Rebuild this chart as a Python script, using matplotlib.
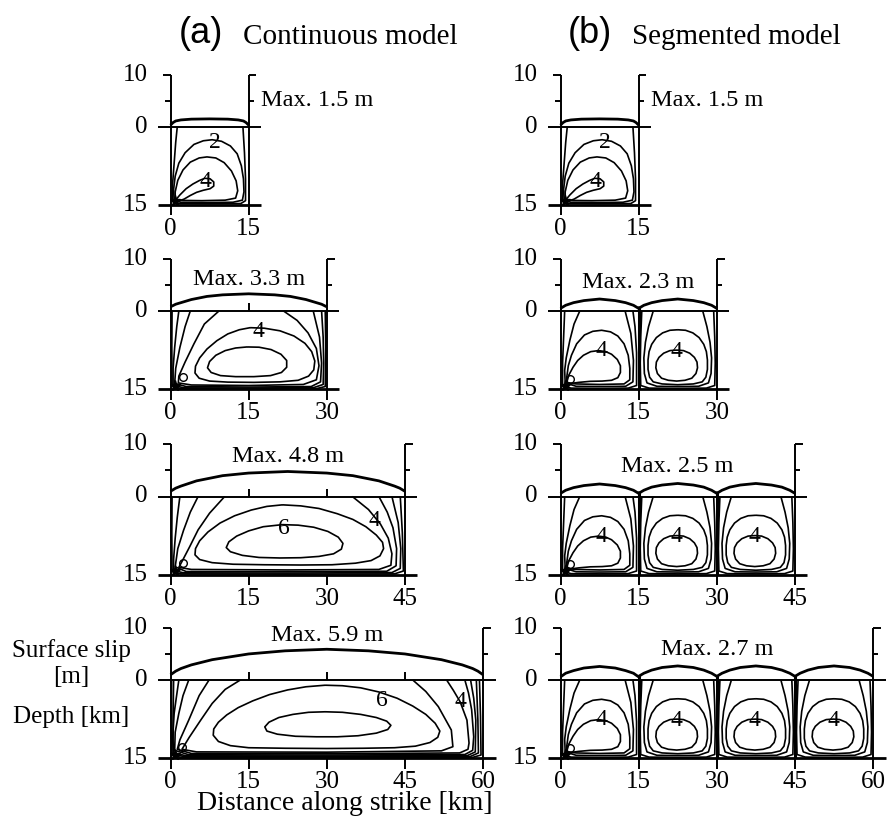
import matplotlib.pyplot as plt

plt.rcParams["font.family"] = ["Liberation Serif", "DejaVu Serif"]

# ---------------- data (km along strike, depth km / slip m) ----------------
TICK_STEP = 15

# (a) continuous model, one rupture of length L
A_LENGTHS = [15, 30, 45, 60]
A_MAX = ["1.5", "3.3", "4.8", "5.9"]

A1_SLIP_X = [0, 0.5, 1, 2, 4, 7.5, 11, 13, 14, 14.5, 15]
A1_SLIP = [0.3, 0.8, 1.1, 1.3, 1.45, 1.5, 1.45, 1.3, 1.1, 0.8, 0.3]
A1_CONTOURS = [
    [(1.3, 0), (1.0, 3), (0.7, 7), (0.4, 11), (0.4, 14.3), (1.5, 14.75), (7.5, 14.8),
     (13.5, 14.75), (14.4, 14.2), (14.4, 10), (14.2, 5), (13.9, 0)],
    [(0.7, 14.2), (0.6, 12), (0.9, 9.5), (1.6, 7), (2.8, 5), (4.5, 3.4), (6.3, 2.7), (8, 2.5),
     (9.8, 2.8), (11.5, 3.7), (12.8, 5.2), (13.6, 7.5), (14.0, 10), (14.1, 12.5), (13.8, 14.1),
     (12, 14.5), (7, 14.55), (2, 14.5), (0.7, 14.2)],
    [(0.9, 14.0), (0.9, 12.5), (1.4, 10.3), (2.4, 8.3), (3.8, 6.8), (5.5, 6.0), (7, 5.8),
     (8.7, 6.0), (10.3, 6.9), (11.7, 8.5), (12.6, 10.4), (12.9, 12.3), (12.5, 13.7),
     (10.5, 14.1), (6, 14.2), (2.5, 14.15), (0.9, 14.0)],
    [(0.8, 14.3), (1.8, 13.1), (3.0, 11.9), (4.3, 11.0), (5.6, 10.3), (6.6, 9.9), (7.6, 10.0),
     (8.3, 10.6), (8.3, 11.4), (7.6, 11.9), (6.3, 12.2), (5.0, 12.6), (3.8, 13.2), (2.6, 13.9),
     (1.5, 14.3), (0.8, 14.3)],
]
A1_LABELS = [("2", 8.6, 3.0), ("4", 6.8, 10.6)]
A1_LOOP = None

A2_SLIP_X = [0, 1, 2, 4, 7, 10, 15, 20, 23, 26, 28, 29, 30]
A2_SLIP = [0.8, 1.3, 1.6, 2.2, 2.8, 3.1, 3.3, 3.1, 2.8, 2.2, 1.6, 1.3, 0.8]
A2_CONTOURS = [
    [(0.3, 0), (0.25, 7), (0.3, 14.4), (2, 14.9), (15, 14.9), (28, 14.9), (29.7, 14.5),
     (29.8, 7), (29.7, 0)],
    [(1.6, 0), (1.2, 3), (0.8, 7), (0.5, 11), (0.5, 14.2), (2.5, 14.75), (15, 14.8),
     (27.5, 14.7), (29.3, 14.1), (29.4, 10), (29.3, 5), (29.0, 0)],
    [(3.8, 0), (2.8, 3), (1.8, 7), (1.0, 11), (0.8, 13.9), (3, 14.5), (15, 14.6), (27, 14.5),
     (28.8, 13.6), (29.0, 10), (28.6, 5), (27.4, 0)],
    [(9.3, 0), (6.5, 2.5), (4.5, 6.3), (2.8, 9.8), (1.6, 12.5), (1.5, 13.8), (4, 14.2),
     (15, 14.3), (25.5, 14.1), (28.0, 13.2), (28.5, 10.5), (28.0, 7.2), (26.4, 4.2),
     (24.3, 1.8), (21.7, 0)],
    [(15.3, 3.2), (18, 3.3), (21, 3.8), (23.7, 4.8), (25.8, 6.2), (27.1, 7.8), (27.7, 9.6),
     (27.5, 11.3), (26.5, 12.5), (24.5, 13.3), (21, 13.6), (16, 13.7), (11, 13.65),
     (7.5, 13.45), (5.5, 12.9), (4.7, 11.9), (4.8, 10.6), (5.6, 9.0), (7.0, 7.3), (8.9, 5.7),
     (11.0, 4.4), (13.2, 3.6), (15.3, 3.2)],
    [(14.7, 6.9), (17, 6.95), (19.3, 7.4), (21.2, 8.3), (22.3, 9.5), (22.3, 10.8), (21.3, 11.8),
     (19.2, 12.4), (16, 12.6), (12.5, 12.6), (9.6, 12.4), (7.8, 11.8), (7.1, 10.9), (7.5, 9.7),
     (8.7, 8.5), (10.5, 7.6), (12.5, 7.1), (14.7, 6.9)],
]
A2_LABELS = [("4", 16.9, 4.0)]
A2_LOOP = (2.4, 12.7)

A3_SLIP_X = [0, 1, 2, 5, 10, 15, 22.5, 30, 35, 40, 43, 44, 45]
A3_SLIP = [1.0, 1.6, 2.0, 3.0, 4.0, 4.5, 4.8, 4.5, 4.0, 3.0, 2.0, 1.6, 1.0]
A3_CONTOURS = [
    [(0.3, 0), (0.25, 7), (0.3, 14.4), (2, 14.85), (22.5, 14.9), (43, 14.85), (44.7, 14.3),
     (44.5, 7), (44.1, 0)],
    [(1.8, 0), (1.3, 4), (0.9, 8), (0.6, 12), (0.6, 14.2), (2.5, 14.65), (22.5, 14.7),
     (42.5, 14.6), (44.1, 13.8), (44.2, 10), (43.7, 5), (42.5, 0)],
    [(5.3, 0), (3.8, 3), (2.5, 6.5), (1.4, 10), (0.9, 13.5), (3, 14.4), (22.5, 14.45),
     (41.5, 14.35), (43.3, 13.3), (43.4, 10), (42.7, 6), (41.6, 3), (40, 0)],
    [(10.4, 0), (7.5, 3.2), (5.3, 6.4), (3.7, 9.6), (2.4, 12.1), (1.6, 13.6), (4, 14.0),
     (22.5, 14.1), (40, 14.0), (42.3, 13.2), (42.5, 11), (41.8, 8), (40.3, 5.3), (38, 2.5),
     (34.9, 0)],
    [(21.5, 1.6), (25, 1.8), (28.5, 2.3), (32, 3.3), (35, 4.4), (37.5, 5.8), (39.5, 7.4),
     (40.7, 8.8), (40.9, 10), (40.2, 11.4), (38.5, 12.3), (35.5, 12.8), (31, 13.1),
     (25, 13.15), (18, 13.1), (12, 13.0), (8, 12.7), (5.6, 12.1), (4.7, 11.2), (4.8, 10),
     (5.6, 8.5), (7.2, 6.8), (9.5, 5.1), (12.3, 3.7), (15.5, 2.6), (18.5, 1.9), (21.5, 1.6)],
    [(21.5, 5.4), (24.5, 5.5), (27.5, 5.9), (30.2, 6.7), (32.2, 7.8), (33.1, 9.0), (32.8, 10.1),
     (31.3, 11.0), (28.5, 11.5), (25, 11.75), (21, 11.8), (17, 11.7), (13.8, 11.3),
     (11.5, 10.6), (10.7, 9.8), (11.2, 8.7), (12.7, 7.6), (15, 6.6), (17.8, 5.8), (21.5, 5.4)],
]
A3_LABELS = [("6", 21.8, 6.2), ("4", 39.2, 4.6)]
A3_LOOP = (2.4, 12.8)

A4_SLIP_X = [0, 1, 2, 4, 8, 15, 22, 30, 38, 45, 52, 56, 58, 59, 60]
A4_SLIP = [1.0, 1.7, 2.2, 2.9, 3.9, 5.0, 5.6, 5.9, 5.6, 5.0, 3.9, 2.9, 2.2, 1.7, 1.0]
A4_CONTOURS = [
    [(0.2, 0), (0.2, 7), (0.3, 14.4), (2, 14.85), (30, 14.9), (58, 14.85), (59.6, 14.4),
     (59.5, 7), (59.3, 0)],
    [(0.6, 0), (0.5, 7), (0.5, 14.1), (2.5, 14.7), (30, 14.75), (57.5, 14.7), (59.1, 14),
     (59.0, 7.7), (58.7, 0)],
    [(1.6, 0), (1.1, 3.5), (0.7, 6.4), (0.4, 11.5), (0.7, 14.0), (3, 14.55), (30, 14.6),
     (57, 14.5), (58.5, 13.8), (58.6, 7.7), (58.2, 3.5), (57.6, 0)],
    [(3.5, 0), (2.4, 3), (1.6, 6.4), (0.9, 10), (0.8, 13.5), (3.5, 14.35), (30, 14.4),
     (56.5, 14.3), (58.0, 13.5), (58.2, 10.9), (57.8, 5.7), (57.2, 2.5), (56.5, 0)],
    [(7.4, 0), (5.5, 3), (3.5, 7.7), (1.8, 11.5), (1.3, 13.3), (4, 14.1), (30, 14.15),
     (55.5, 14.0), (57.1, 13.3), (57.3, 12.1), (56.9, 7.7), (55.6, 4.2), (54.3, 2), (53, 0)],
    [(13.4, 0), (10.5, 1.8), (8, 4.5), (5.8, 7.7), (3.6, 11), (2.2, 13.3), (5, 13.8),
     (30, 13.85), (52, 13.6), (54.2, 12.8), (53.9, 9.6), (51.4, 5.1), (49, 2.2), (46.5, 0)],
    [(29.7, 1.0), (33, 1.1), (36.5, 1.5), (40, 2.3), (43.5, 3.5), (46.5, 5.0), (49, 6.6),
     (50.8, 8.3), (51.7, 9.8), (51.3, 11.0), (49.8, 12.0), (47, 12.7), (43, 13.0), (37, 13.1),
     (30, 13.15), (22, 13.1), (15, 13.0), (11.5, 12.6), (9.2, 11.8), (8.2, 10.6), (8.3, 9.4),
     (9.2, 8.1), (10.8, 6.7), (13, 5.3), (15.8, 4.0), (19, 2.8), (22.5, 1.9), (26, 1.3),
     (29.7, 1.0)],
    [(29.7, 6.1), (33, 6.2), (36.5, 6.6), (39.5, 7.2), (41.5, 7.9), (42.3, 8.7), (41.7, 9.5),
     (39.5, 10.2), (36, 10.7), (32, 10.9), (28, 10.9), (24, 10.8), (20.5, 10.4), (18.5, 9.8),
     (18.1, 9.0), (18.9, 8.1), (20.8, 7.2), (23.5, 6.6), (26.5, 6.2), (29.7, 6.1)],
]
A4_LABELS = [("6", 40.6, 4.0), ("4", 55.6, 4.2)]
A4_LOOP = (2.3, 12.8)

HYPO = (0.8, 14.3)

# (b) segmented model, 15 km segments
B_SEGMENTS = [1, 2, 3, 4]
B_MAX = ["1.5", "2.3", "2.5", "2.7"]
SEG_LEN = 15
SEG_SLIP_X = [0, 1, 2.5, 4.5, 7.5, 10.5, 12.5, 14, 15]
B2_SLIP = [[0.5, 1.1, 1.6, 2.0, 2.3, 2.0, 1.6, 1.1, 0.5],
           [0.5, 1.1, 1.6, 2.0, 2.3, 2.0, 1.6, 1.1, 0.5]]
B3_SLIP = [[0.6, 1.2, 1.7, 2.1, 2.4, 2.1, 1.7, 1.2, 0.6],
           [0.6, 1.2, 1.8, 2.2, 2.5, 2.2, 1.8, 1.2, 0.6],
           [0.6, 1.2, 1.8, 2.2, 2.5, 2.2, 1.8, 1.2, 0.6]]
B4_SLIP = [[0.6, 1.3, 1.8, 2.3, 2.6, 2.3, 1.8, 1.3, 0.6],
           [0.7, 1.3, 1.9, 2.4, 2.7, 2.4, 1.9, 1.3, 0.7],
           [0.7, 1.3, 1.9, 2.4, 2.7, 2.4, 1.9, 1.3, 0.7],
           [0.7, 1.3, 1.9, 2.4, 2.7, 2.4, 1.9, 1.3, 0.7]]

HYPO_SEG_CONTOURS = [
    [(0.8, 0), (0.6, 5), (0.4, 10), (0.4, 14.3), (2, 14.8), (7.5, 14.85), (13, 14.8),
     (14.6, 14.3), (14.6, 8), (14.3, 3), (13.9, 0)],
    [(3.7, 0), (2.6, 2.5), (1.8, 5.6), (1.1, 9), (0.8, 11.4), (0.9, 13.8), (3, 14.45),
     (7.5, 14.5), (12.5, 14.45), (13.9, 13.6), (14.0, 9.5), (13.5, 4.3), (12.4, 0)],
    [(1.2, 13.8), (1.2, 12.7), (1.5, 10.5), (2.1, 8.5), (3.1, 6.3), (4.6, 4.6), (6.2, 3.9),
     (7.9, 3.7), (9.6, 4.0), (11.0, 4.8), (12.2, 6.3), (13.0, 8.5), (13.3, 11), (13.3, 13.2),
     (12.2, 14.0), (7.5, 14.1), (3, 14.0), (1.2, 13.8)],
    [(1.2, 13.7), (1.6, 12.3), (2.4, 10.8), (3.3, 9.5), (4.4, 8.5), (5.8, 7.8), (7.3, 7.6),
     (8.7, 7.8), (9.8, 8.3), (10.9, 9.3), (11.5, 10.5), (11.5, 11.8), (11.0, 12.8),
     (9.8, 13.3), (8, 13.45), (5.7, 13.5), (3.5, 13.7), (2, 13.9), (1.2, 13.7)],
]
HYPO_SEG_LABELS = [("4", 7.9, 7.6)]
HYPO_SEG_LOOP = (1.8, 13.0)

SEG_CONTOURS = [
    [(0.6, 0), (0.4, 5), (0.3, 10), (0.4, 14.3), (2, 14.8), (7.5, 14.85), (13, 14.8),
     (14.6, 14.3), (14.7, 10), (14.6, 5), (14.4, 0)],
    [(2.8, 0), (1.9, 3), (1.3, 6), (1.0, 9), (1.1, 12), (1.6, 13.8), (3.5, 14.45), (7.5, 14.5),
     (11.5, 14.45), (13.4, 13.8), (13.9, 12), (14.0, 9), (13.7, 6), (13.1, 3), (12.3, 0)],
    [(7.5, 3.6), (9.0, 3.7), (10.4, 4.2), (11.6, 5.1), (12.5, 6.4), (13.0, 7.8), (13.2, 9.4),
     (13.2, 11.2), (12.9, 12.7), (12.2, 13.6), (10.5, 14.0), (7.5, 14.15), (4.5, 14.0),
     (2.8, 13.6), (2.1, 12.7), (1.8, 11.2), (1.8, 9.4), (2.0, 7.8), (2.5, 6.4), (3.4, 5.1),
     (4.6, 4.2), (6.0, 3.7), (7.5, 3.6)],
    [(7.3, 7.5), (8.6, 7.6), (9.8, 8.1), (10.7, 8.9), (11.2, 9.8), (11.3, 10.9), (11.0, 12.0),
     (10.2, 12.9), (8.9, 13.3), (7.3, 13.45), (5.7, 13.3), (4.4, 12.9), (3.6, 12.0),
     (3.3, 10.9), (3.4, 9.8), (3.9, 8.9), (4.8, 8.1), (6.0, 7.6), (7.3, 7.5)],
]
SEG_LABELS = [("4", 7.3, 7.7)]

# ---------------- layout ----------------
W, H = 888, 824
S = 5.21                       # pixels per km (and per m of slip)
COL_X0 = [170.5, 560.5]        # pixel x of distance 0
ROW_Y0 = [126.7, 311, 496.5, 680]  # pixel y of the surface line
FS = 18
LW = 1.2

fig = plt.figure(figsize=(W / 100, H / 100), dpi=100)


def make_panel(col, row, length):
    x0, y0 = COL_X0[col], ROW_Y0[row]
    left = (x0 - 6 * S) / W
    width = (length + 10) * S / W
    top = y0 - 11 * S
    height = 30 * S / H
    ax = fig.add_axes([left, 1 - top / H - height, width, height])
    ax.set_xlim(-6, length + 4)
    ax.set_ylim(-19, 11)
    ax.axis("off")
    return ax


def line(ax, xs, ys, **kw):
    kw.setdefault("color", "k")
    kw.setdefault("lw", LW)
    ax.plot(xs, ys, clip_on=False, solid_joinstyle="round", solid_capstyle="butt", **kw)


def draw_frame(ax, length, boundaries, top_ticks):
    fw = 1.4
    for x, sgn in [(0, -1), (length, 1)]:
        line(ax, [x, x], [10, -17], lw=fw)
        line(ax, [x, x + sgn * 1.5], [10, 10], lw=fw)
        line(ax, [x, x + sgn * 1.0], [5, 5], lw=fw)
    line(ax, [-2.4, length + 2.4], [0, 0], lw=fw)
    line(ax, [-2.4, length + 2.4], [-15, -15], lw=2.0)
    for x in range(TICK_STEP, length, TICK_STEP):
        line(ax, [x, x], [-15, -17], lw=fw)
        if top_ticks:
            line(ax, [x, x], [0, 1.5], lw=fw)
    for x in boundaries:
        line(ax, [x, x], [-15, 1.0], lw=2.2)
    for lab, y in [("10", 10), ("0", 0), ("15", -15)]:
        ax.text(-4.4, y, lab, ha="right", va="center", fontsize=FS)
    for x in range(0, length + 1, TICK_STEP):
        ax.text(x, -19.6, str(x), ha="center", va="center", fontsize=FS)


def draw_contours(ax, contours, labels, loop, dx=0):
    for c in contours:
        line(ax, [p[0] + dx for p in c], [-p[1] for p in c])
    for lab, x, d in labels:
        ax.text(x + dx, -d, lab, ha="center", va="center", fontsize=17)
    if loop is not None:
        ax.plot(loop[0] + dx, -loop[1], "o", mfc="none", mec="k", ms=5.5, mew=1.0,
                clip_on=False)


def draw_hypo(ax):
    ax.plot(HYPO[0], -HYPO[1], marker="*", ms=8, color="k", clip_on=False)


# ---------------- (a) continuous model ----------------
a_slip_x = [A1_SLIP_X, A2_SLIP_X, A3_SLIP_X, A4_SLIP_X]
a_slip = [A1_SLIP, A2_SLIP, A3_SLIP, A4_SLIP]
a_cont = [A1_CONTOURS, A2_CONTOURS, A3_CONTOURS, A4_CONTOURS]
a_labels = [A1_LABELS, A2_LABELS, A3_LABELS, A4_LABELS]
a_loops = [A1_LOOP, A2_LOOP, A3_LOOP, A4_LOOP]
max_y_a = [None, 6.0, 7.7, 8.6]

for r, L in enumerate(A_LENGTHS):
    ax = make_panel(0, r, L)
    draw_frame(ax, L, [], top_ticks=True)
    line(ax, a_slip_x[r], a_slip[r], lw=2.0)
    draw_contours(ax, a_cont[r], a_labels[r], a_loops[r])
    draw_hypo(ax)
    if r == 0:
        ax.text(L + 2.4, 5, f"Max. {A_MAX[r]} m", ha="left", va="center", fontsize=17.5)
    else:
        ax.text(L / 2, max_y_a[r], f"Max. {A_MAX[r]} m", ha="center", va="center",
                fontsize=17.5)

# ---------------- (b) segmented model ----------------
b_slip = [[A1_SLIP], B2_SLIP, B3_SLIP, B4_SLIP]
max_y_b = [None, 5.4, 5.8, 5.8]

for r, nseg in enumerate(B_SEGMENTS):
    L = nseg * SEG_LEN
    ax = make_panel(1, r, L)
    draw_frame(ax, L, [k * SEG_LEN for k in range(1, nseg)], top_ticks=False)
    if r == 0:
        line(ax, A1_SLIP_X, A1_SLIP, lw=2.0)
        draw_contours(ax, A1_CONTOURS, A1_LABELS, A1_LOOP)
        ax.text(L + 2.4, 5, f"Max. {B_MAX[r]} m", ha="left", va="center", fontsize=17.5)
    else:
        for k in range(nseg):
            dx = k * SEG_LEN
            line(ax, [x + dx for x in SEG_SLIP_X], b_slip[r][k], lw=2.0)
            if k == 0:
                draw_contours(ax, HYPO_SEG_CONTOURS, HYPO_SEG_LABELS, HYPO_SEG_LOOP)
            else:
                draw_contours(ax, SEG_CONTOURS, SEG_LABELS, None, dx)
        ax.text(L / 2, max_y_b[r], f"Max. {B_MAX[r]} m", ha="center", va="center",
                fontsize=17.5)
    draw_hypo(ax)


# ---------------- titles and axis labels ----------------
def ftext(x, y, s, **kw):
    fig.text(x / W, 1 - y / H, s, **kw)


ftext(179, 43, "(a)", family=["Liberation Sans", "DejaVu Sans"], fontsize=26,
      ha="left", va="baseline")
ftext(243, 44, "Continuous model", fontsize=21, ha="left", va="baseline")
ftext(568, 43, "(b)", family=["Liberation Sans", "DejaVu Sans"], fontsize=26,
      ha="left", va="baseline")
ftext(632, 44, "Segmented model", fontsize=21, ha="left", va="baseline")

ftext(71, 651, "Surface slip", fontsize=FS, ha="center", va="center")
ftext(71, 677, "[m]", fontsize=FS, ha="center", va="center")
ftext(71, 717, "Depth [km]", fontsize=FS, ha="center", va="center")
ftext(197, 804, "Distance along strike [km]", fontsize=20, ha="left", va="center")

fig.savefig("out.png", dpi=100)
